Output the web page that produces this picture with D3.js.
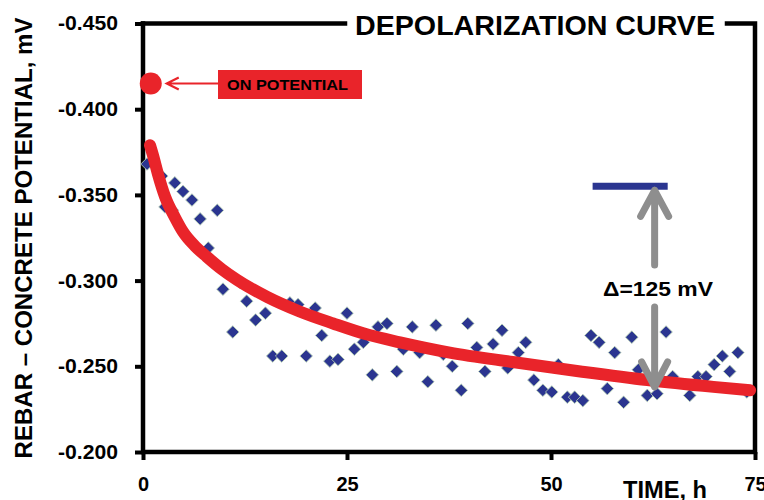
<!DOCTYPE html>
<html>
<head>
<meta charset="utf-8">
<script src="https://cdn.jsdelivr.net/npm/d3@7"></script>
<style>
	body { margin: 0; background: #fff; }
	svg { display: block; font-family: "Liberation Sans", Arial, sans-serif; font-weight: bold; }
</style>
</head>
<body>
<svg id="chart" width="764" height="500"></svg>
<script>
// measured points (time h, potential V)
var hours = [0.5, 2.3, 2.7, 3.6, 3.9, 4.9, 6.0, 7.0, 8.0, 9.1, 9.8, 11.0, 11.9, 12.7, 13.8, 15.0, 15.9, 17.0,
	18.0, 19.0, 20.0, 21.1, 21.9, 22.9, 23.9, 25.0, 25.9, 27.0, 28.1, 28.8, 29.9, 31.1, 31.9, 33.0, 33.9,
	34.9, 35.9, 36.8, 37.9, 39.0, 39.8, 40.9, 41.9, 42.9, 44.0, 44.7, 46.0, 46.9, 47.9, 49.0, 50.1, 50.9,
	52.0, 52.9, 53.9, 54.9, 55.9, 56.9, 57.8, 58.9, 59.9, 60.7, 61.8, 63.0, 64.1, 64.9, 67.0, 68.0, 69.0,
	70.0, 71.0, 71.9, 72.9, 74.0];
var potential = [-0.368, -0.361, -0.343, -0.341, -0.357, -0.352, -0.347, -0.336, -0.319, -0.341, -0.295,
	-0.270, -0.299, -0.288, -0.277, -0.281, -0.256, -0.256, -0.287, -0.286, -0.256, -0.284, -0.268, -0.253,
	-0.254, -0.281, -0.260, -0.264, -0.245, -0.273, -0.275, -0.247, -0.260, -0.273, -0.258, -0.241, -0.274,
	-0.257, -0.250, -0.236, -0.275, -0.261, -0.247, -0.263, -0.271, -0.249, -0.258, -0.264, -0.242, -0.236,
	-0.235, -0.251, -0.232, -0.232, -0.230, -0.268, -0.264, -0.237, -0.258, -0.229, -0.267, -0.248, -0.233,
	-0.234, -0.270, -0.244, -0.233, -0.244, -0.244, -0.251, -0.256, -0.247, -0.258, -0.235];

// fitted depolarization curve
var fitHours = [0.86, 1.23, 1.84, 2.7, 3.9, 4.9, 6.4, 7.8, 9.7, 11.5, 15.2, 19.2, 23.3, 27.5, 31.5, 37.6,
	45.3, 53.6, 61.8, 69.9, 74.4];
var fitPotential = [-0.379, -0.373, -0.362, -0.349, -0.337, -0.3285, -0.320, -0.314, -0.3065, -0.3005, -0.2905,
	-0.282, -0.275, -0.2685, -0.264, -0.258, -0.2525, -0.247, -0.242, -0.238, -0.236];

var onPotential = [0.95, -0.415];         // ON potential dot
var deltaBar = [55.1, 64.3, -0.355];       // blue bar: from h, to h, level
var deltaArrow = [62.7, -0.355, -0.238];   // arrow at h, from, to

var xTicks = [0, 25, 50, 75];
var yTicks = [-0.45, -0.40, -0.35, -0.30, -0.25, -0.20];

var svg = d3.select('#chart');
var x = d3.scaleLinear().domain([0, 75]).range([143, 755]);
var y = d3.scaleLinear().domain([-0.45, -0.20]).range([23.5, 452]);

var red = '#e9242a', blue = '#2b3590', grey = '#8e8e8e';

// axes
var yAxis = svg.append('g')
	.attr('transform', 'translate(143,0)')
	.call(d3.axisLeft(y).tickValues(yTicks).tickFormat(function(d) { return d.toFixed(3); }).tickSize(8).tickPadding(17));
var xAxis = svg.append('g')
	.attr('transform', 'translate(0,452)')
	.call(d3.axisBottom(x).tickValues(xTicks).tickFormat(d3.format('d')).tickSize(8).tickPadding(17));

[yAxis, xAxis].forEach(function(a) {
	a.select('.domain').remove();
	a.selectAll('line').attr('stroke', '#000').attr('stroke-width', 4);
	a.selectAll('text').attr('fill', '#000').style('font-size', '20px').style('font-weight', 'bold')
		.style('font-family', '"Liberation Sans", Arial, sans-serif');
});
yAxis.selectAll('text').attr('textLength', 60).attr('lengthAdjust', 'spacingAndGlyphs');

// frame
var frame = svg.append('g').attr('stroke', '#000').attr('stroke-width', 4.5).attr('fill', 'none')
	.attr('stroke-linecap', 'square');
frame.append('path').attr('d', 'M' + x(0) + ',' + y(-0.45) + 'V' + y(-0.2) + 'H' + x(75) + 'V' + y(-0.45) + 'H727');
frame.append('path').attr('d', 'M' + x(0) + ',' + y(-0.45) + 'H345');

svg.append('text')
	.attr('x', 355).attr('y', 35)
	.attr('textLength', 360).attr('lengthAdjust', 'spacingAndGlyphs')
	.style('font-size', '28px')
	.text('DEPOLARIZATION CURVE');

// axis titles
svg.append('text')
	.attr('transform', 'translate(32,238) rotate(-90)')
	.attr('text-anchor', 'middle')
	.attr('textLength', 441).attr('lengthAdjust', 'spacingAndGlyphs')
	.style('font-size', '24px')
	.text('REBAR \u2013 CONCRETE POTENTIAL, mV');

svg.append('text')
	.attr('x', 623).attr('y', 498)
	.attr('textLength', 84).attr('lengthAdjust', 'spacingAndGlyphs')
	.style('font-size', '23px')
	.text('TIME, h');

// measured points
var pts = d3.range(hours.length).map(function(i) { return [hours[i], potential[i]]; });
svg.append('g').selectAll('path.pt')
	.data(pts)
	.enter()
	.append('path')
	.attr('class', 'pt')
	.attr('d', d3.symbol().type(d3.symbolSquare).size(80))
	.attr('transform', function(d) { return 'translate(' + x(d[0]) + ',' + y(d[1]) + ') rotate(45)'; })
	.attr('fill', blue)
	.attr('stroke', '#b9d3b5')
	.attr('stroke-width', 0.8);

// fitted curve
var fit = d3.range(fitHours.length).map(function(i) { return [fitHours[i], fitPotential[i]]; });
svg.append('path')
	.datum(fit)
	.attr('d', d3.line().x(function(d) { return x(d[0]); }).y(function(d) { return y(d[1]); }).curve(d3.curveMonotoneX))
	.attr('fill', 'none')
	.attr('stroke', red)
	.attr('stroke-width', 12)
	.attr('stroke-linecap', 'round');

// ON potential marker + callout
var ox = x(onPotential[0]), oy = y(onPotential[1]);
svg.append('circle').attr('cx', ox).attr('cy', oy).attr('r', 11).attr('fill', red);
svg.append('path')
	.attr('d', 'M' + (ox + 16) + ',' + oy + 'H218 M' + (ox + 28) + ',' + (oy - 6) + 'L' + (ox + 16) + ',' + oy + 'L' + (ox + 28) + ',' + (oy + 6))
	.attr('fill', 'none').attr('stroke', red).attr('stroke-width', 2.2);
svg.append('rect').attr('x', 218).attr('y', 70).attr('width', 144).attr('height', 29).attr('fill', red);
svg.append('text')
	.attr('x', 227).attr('y', 90)
	.attr('textLength', 121).attr('lengthAdjust', 'spacingAndGlyphs')
	.style('font-size', '15px')
	.text('ON POTENTIAL');

// delta annotation
svg.append('line')
	.attr('x1', x(deltaBar[0])).attr('x2', x(deltaBar[1]))
	.attr('y1', y(deltaBar[2])).attr('y2', y(deltaBar[2]))
	.attr('stroke', blue).attr('stroke-width', 7);

var ax = x(deltaArrow[0]), aTop = y(deltaArrow[1]) + 4, aBot = y(deltaArrow[2]);
var arrows = svg.append('g').attr('stroke', grey).attr('stroke-width', 7).attr('fill', 'none')
	.attr('stroke-linecap', 'round').attr('stroke-linejoin', 'round');
arrows.append('path').attr('d', 'M' + ax + ',' + aTop + 'V265 M' + (ax - 14) + ',' + (aTop + 26) + 'L' + ax + ',' + aTop + 'L' + (ax + 14) + ',' + (aTop + 26));
arrows.append('path').attr('d', 'M' + ax + ',307V' + aBot + ' M' + (ax - 13) + ',' + (aBot - 25) + 'L' + ax + ',' + aBot + 'L' + (ax + 13) + ',' + (aBot - 25));

svg.append('text')
	.attr('x', 658).attr('y', 296)
	.attr('text-anchor', 'middle')
	.attr('textLength', 110).attr('lengthAdjust', 'spacingAndGlyphs')
	.style('font-size', '21px')
	.text('\u0394=125 mV');
</script>
</body>
</html>
